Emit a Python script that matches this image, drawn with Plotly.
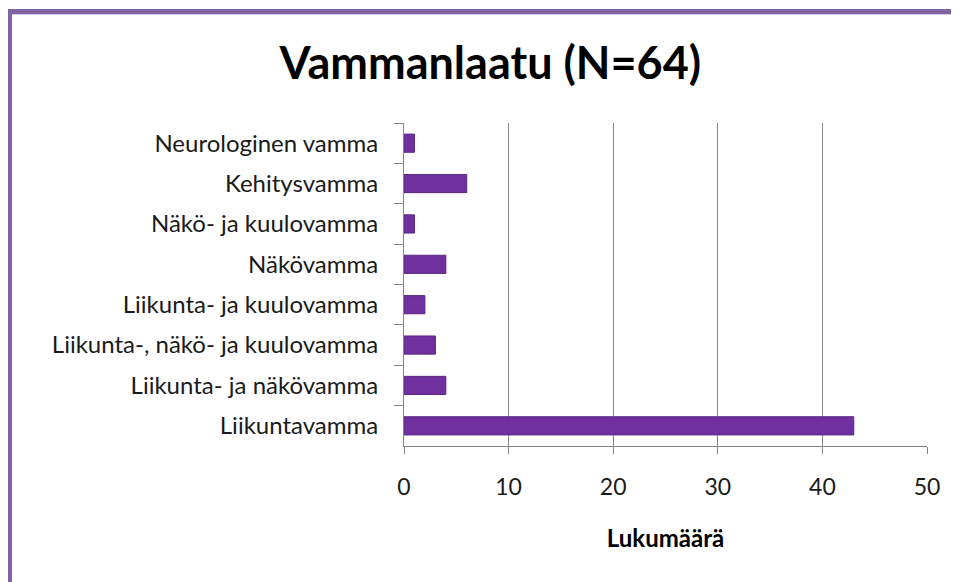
import plotly.graph_objects as go

categories = [
    "Neurologinen vamma",
    "Kehitysvamma",
    "Näkö- ja kuulovamma",
    "Näkövamma",
    "Liikunta- ja kuulovamma",
    "Liikunta-, näkö- ja kuulovamma",
    "Liikunta- ja näkövamma",
    "Liikuntavamma",
]
values = [1, 6, 1, 4, 2, 3, 4, 43]
title_text = "Vammanlaatu (N=64)"
x_title = "Lukumäärä"
x_ticks = [0, 10, 20, 30, 40, 50]

FONT = "Lato"
GRAY = "#868686"

L, T, B, R = 396, 115, 144, 40
W, H = 959, 582
PW, PH = W - L - R, H - T - B


def px(x):
    return (x - L) / PW


def py(y):
    return 1 - (y - T) / PH


fig = go.Figure(go.Bar(
    x=values, y=categories, orientation="h",
    marker=dict(color="#7030A0", line=dict(color="#5A2784", width=1)),
    hoverinfo="x+y",
))

fig.update_layout(
    width=W, height=H,
    margin=dict(l=L, r=R, t=T, b=B),
    paper_bgcolor="white", plot_bgcolor="white",
    showlegend=False,
    bargap=0.55,
    title=dict(text="<b>" + title_text + "</b>", x=0.503, xanchor="center",
               y=1 - 55 / H, yanchor="middle",
               font=dict(family=FONT, size=45, color="black")),
    xaxis=dict(range=[0, 50], tickvals=x_ticks, showgrid=True, gridcolor=GRAY, gridwidth=1,
               showline=True, linecolor=GRAY, linewidth=1,
               ticks="outside", ticklen=7, tickcolor=GRAY, zeroline=False,
               tickfont=dict(family=FONT, size=23, color="#1a1a1a"),
               ticklabelstandoff=13,
               title=dict(text="<b>" + x_title + "</b>", standoff=31,
                          font=dict(family=FONT, size=24, color="black"))),
    yaxis=dict(autorange="reversed", tickson="boundaries", showgrid=False,
               showline=True, linecolor=GRAY, linewidth=1,
               ticks="outside", ticklen=9, tickcolor=GRAY,
               tickfont=dict(family=FONT, size=24, color="#1a1a1a"),
               ticklabelstandoff=20),
    shapes=[
        dict(type="line", xref="paper", yref="paper",
             x0=px(-5), x1=px(W + 20), y0=py(3.5), y1=py(3.5),
             line=dict(color="#8064A2", width=5), layer="below"),
        dict(type="line", xref="paper", yref="paper",
             x0=px(4), x1=px(W + 20), y0=py(6.5), y1=py(6.5),
             line=dict(color="#D9CCE8", width=1), layer="below"),
        dict(type="line", xref="paper", yref="paper",
             x0=px(1.5), x1=px(1.5), y0=py(1), y1=py(H + 20),
             line=dict(color="#8064A2", width=5), layer="below"),
    ],
)

fig.write_html("out.html")
